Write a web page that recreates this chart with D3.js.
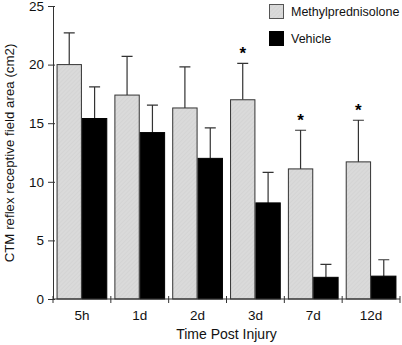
<!DOCTYPE html>
<html>
<head>
<meta charset="utf-8">
<script src="https://cdn.jsdelivr.net/npm/d3@7"></script>
<style>
  body { margin: 0; background: #fff; }
  svg { display: block; font-family: "Liberation Sans", Arial, sans-serif; }
</style>
</head>
<body>
<div id="container"></div>
<script>
const categories = ["5h", "1d", "2d", "3d", "7d", "12d"]
const seriesNames = ["Methylprednisolone", "Vehicle"]
const methylValues = [20.0, 17.4, 16.3, 17.0, 11.1, 11.7]
const methylErrors = [2.7, 3.3, 3.5, 3.1, 3.3, 3.55]
const vehicleValues = [15.4, 14.2, 12.0, 8.2, 1.85, 1.95]
const vehicleErrors = [2.7, 2.35, 2.6, 2.6, 1.1, 1.4]
const significant = [false, false, false, true, true, true]
const yTicks = [0, 5, 10, 15, 20, 25]

const w = 402
const h = 345
const margin = { top: 6, right: 2, bottom: 46, left: 53 }

const svg = d3.select("#container")
    .append("svg")
    .attr("width", w)
    .attr("height", h)

// subtle diagonal hatching on the light bars
const defs = svg.append("defs")
const pat = defs.append("pattern")
    .attr("id", "hatch")
    .attr("patternUnits", "userSpaceOnUse")
    .attr("width", 3)
    .attr("height", 3)
    .attr("patternTransform", "rotate(45)")
pat.append("rect").attr("width", 3).attr("height", 3).attr("fill", "#dadada")
pat.append("line").attr("x1", 0).attr("y1", 0).attr("x2", 0).attr("y2", 3)
    .attr("stroke", "#cfcfcf").attr("stroke-width", 1)

const x = d3.scaleBand()
    .domain(categories)
    .range([margin.left, w - margin.right])
    .paddingInner(0)
    .paddingOuter(0)

const x1 = d3.scaleBand()
    .domain(seriesNames)
    .range([0, x.bandwidth()])
    .paddingOuter(0.14)
    .paddingInner(0)

const y = d3.scaleLinear()
    .domain([0, 25])
    .range([h - margin.bottom, margin.top])

const data = categories.map((c, i) => ({
    cat: c,
    sig: significant[i],
    bars: [
        { s: seriesNames[0], v: methylValues[i], e: methylErrors[i] },
        { s: seriesNames[1], v: vehicleValues[i], e: vehicleErrors[i] }
    ]
}))

const fills = { "Methylprednisolone": "url(#hatch)", "Vehicle": "#000" }

const groups = svg.selectAll("g.grp")
    .data(data)
    .enter()
    .append("g")
    .attr("class", "grp")
    .attr("transform", d => `translate(${x(d.cat)},0)`)

// error bars (upper only), drawn behind bars
groups.selectAll("path.err")
    .data(d => d.bars)
    .enter()
    .append("path")
    .attr("class", "err")
    .attr("fill", "none")
    .attr("stroke", "#333")
    .attr("stroke-width", 1.2)
    .attr("d", d => {
        const cx = x1(d.s) + x1.bandwidth() / 2
        const top = y(d.v + d.e)
        return `M${cx},${y(d.v)}V${top}M${cx - 5.5},${top}H${cx + 5.5}`
    })

groups.selectAll("rect")
    .data(d => d.bars)
    .enter()
    .append("rect")
    .attr("x", d => x1(d.s) + 0.5)
    .attr("y", d => y(d.v))
    .attr("width", x1.bandwidth() - 1)
    .attr("height", d => y(0) - y(d.v))
    .attr("fill", d => fills[d.s])
    .attr("stroke", d => d.s === "Vehicle" ? "#000" : "#333")
    .attr("stroke-width", 1)

// significance stars
groups.filter(d => d.sig)
    .append("text")
    .attr("x", d => x1(seriesNames[0]) + x1.bandwidth() / 2)
    .attr("y", d => y(d.bars[0].v + d.bars[0].e) - 4)
    .attr("text-anchor", "middle")
    .attr("font-size", 17)
    .attr("font-weight", "bold")
    .text("*")

// y axis
const yAxis = d3.axisLeft(y)
    .tickValues(yTicks)
    .tickSizeInner(5)
    .tickSizeOuter(0)
    .tickPadding(4)
const ya = svg.append("g")
    .attr("transform", `translate(${margin.left},0)`)
    .call(yAxis)
ya.selectAll("text").attr("font-size", 13.5).attr("font-family", "Liberation Sans, Arial, sans-serif").attr("fill", "#111")
ya.selectAll("line").attr("x2", -5).attr("x1", 2).attr("stroke", "#333")
ya.select(".domain").attr("stroke", "#333")

// x axis, ticks at band boundaries
const xa = svg.append("g")
    .attr("transform", `translate(0,${y(0)})`)
xa.append("line")
    .attr("x1", margin.left).attr("x2", w - margin.right)
    .attr("stroke", "#333")
const bounds = categories.map(c => x(c)).concat([x(categories[categories.length - 1]) + x.bandwidth()])
xa.selectAll("line.tk")
    .data(bounds)
    .enter()
    .append("line")
    .attr("class", "tk")
    .attr("x1", d => d).attr("x2", d => d)
    .attr("y1", -3).attr("y2", 4)
    .attr("stroke", "#333")
xa.selectAll("text")
    .data(categories)
    .enter()
    .append("text")
    .attr("x", d => x(d) + x.bandwidth() / 2)
    .attr("y", 21)
    .attr("text-anchor", "middle")
    .attr("font-size", 13.5)
    .attr("fill", "#111")
    .text(d => d)

// axis titles
svg.append("text")
    .attr("x", x(categories[3]))
    .attr("y", 339)
    .attr("text-anchor", "middle")
    .attr("font-size", 14)
    .attr("fill", "#111")
    .text("Time Post Injury")

svg.append("text")
    .attr("transform", `translate(14,153) rotate(-90)`)
    .attr("text-anchor", "middle")
    .attr("font-size", 13.3)
    .attr("fill", "#111")
    .text("CTM reflex receptive field area (cm2)")

// legend
const legend = svg.append("g").attr("transform", "translate(269,4)")
legend.selectAll("rect")
    .data(seriesNames)
    .enter()
    .append("rect")
    .attr("x", 0.5)
    .attr("y", (d, i) => i * 27 + 0.5)
    .attr("width", 14)
    .attr("height", 14)
    .attr("fill", d => fills[d])
    .attr("stroke", d => d === "Vehicle" ? "#000" : "#555")
legend.selectAll("text")
    .data(seriesNames)
    .enter()
    .append("text")
    .attr("x", 22)
    .attr("y", (d, i) => i * 27 + 12)
    .attr("font-size", 12.5)
    .attr("fill", "#111")
    .text(d => d)
</script>
</body>
</html>
